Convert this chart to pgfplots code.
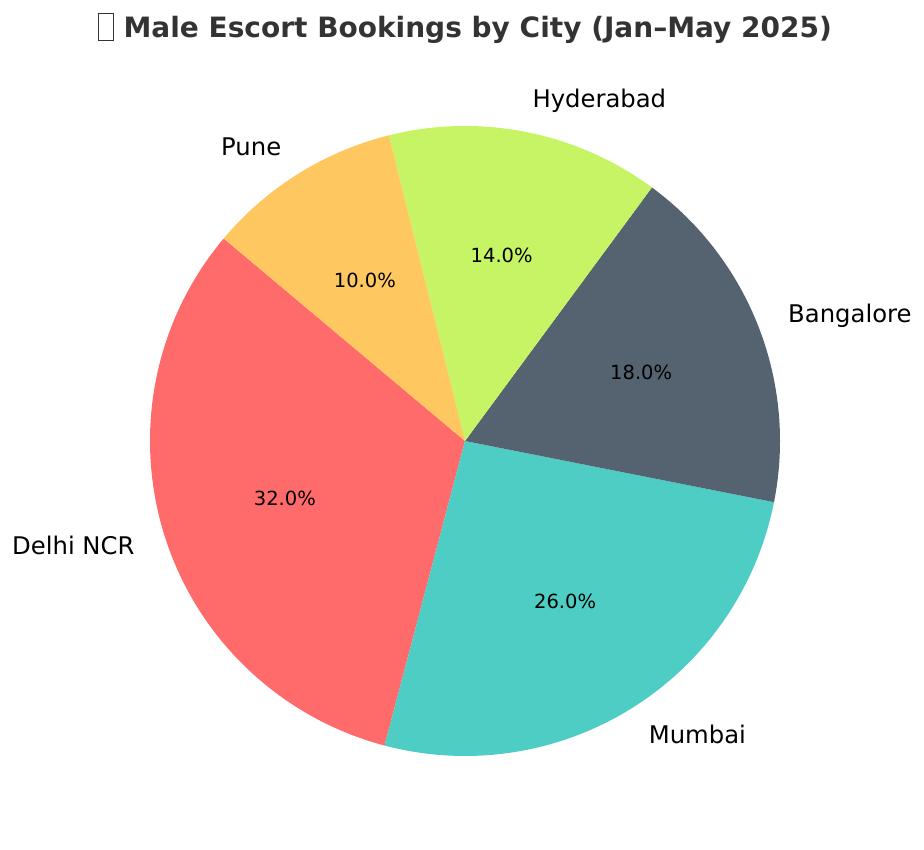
\documentclass[border=0pt]{standalone}
\usepackage{pgfplots}
\usepackage{pgfplotstable}
\pgfplotsset{compat=1.18}
\usepackage{fontspec}
\setmainfont{DejaVu Sans}

\definecolor{cDelhi}{HTML}{FF6B6B}
\definecolor{cMumbai}{HTML}{4ECDC4}
\definecolor{cBangalore}{HTML}{556270}
\definecolor{cHyderabad}{HTML}{C7F464}
\definecolor{cPune}{HTML}{FFC75F}
\definecolor{titlegray}{HTML}{333333}

% share in percent, counter-clockwise from 140 deg
\pgfplotstableread[col sep=comma]{
city,share,col,side
Delhi NCR,32,cDelhi,east
Mumbai,26,cMumbai,west
Bangalore,18,cBangalore,west
Hyderabad,14,cHyderabad,west
Pune,10,cPune,east
}\bookings

\newcommand\tofu{{\setlength\fboxsep{0pt}\setlength\fboxrule{0.9pt}%
  \raisebox{-0.12em}{\fbox{\rule{0pt}{0.95em}\hspace{0.5em}}}}}

\begin{document}
\begin{tikzpicture}
\begin{axis}[
  width=924bp, height=850bp, scale only axis,
  xmin=0, xmax=924, ymin=0, ymax=850,
  hide axis, clip=false,
  /pgf/number format/assume math mode=true,
]
\path (axis cs:0,0) rectangle (axis cs:924,850);
\pgfmathsetmacro\startang{140}
\pgfplotstablegetrowsof{\bookings}
\pgfmathtruncatemacro\nrows{\pgfplotsretval-1}
\pgfplotsforeachungrouped \i in {0,...,\nrows}{
  \pgfplotstablegetelem{\i}{share}\of\bookings \let\share\pgfplotsretval
  \pgfplotstablegetelem{\i}{city}\of\bookings \let\city\pgfplotsretval
  \pgfplotstablegetelem{\i}{col}\of\bookings \let\col\pgfplotsretval
  \pgfplotstablegetelem{\i}{side}\of\bookings \let\side\pgfplotsretval
  \pgfmathsetmacro\endang{\startang+3.6*\share}
  \pgfmathsetmacro\midang{(\startang+\endang)/2}
  \pgfmathsetmacro\sx{465+315*cos(\startang)}
  \pgfmathsetmacro\sy{409+315*sin(\startang)}
  \pgfmathsetmacro\px{465+189*cos(\midang)}
  \pgfmathsetmacro\py{409+189*sin(\midang)}
  \pgfmathsetmacro\lx{465+346.5*cos(\midang)}
  \pgfmathsetmacro\ly{409+346.5*sin(\midang)}
  \edef\temp{%
    \noexpand\fill[\col] (axis cs:465,409) -- (axis cs:\sx,\sy)
      arc[start angle=\startang, end angle=\endang, radius=315bp] -- cycle;
    \noexpand\node[font=\noexpand\fontsize{19.5bp}{22bp}\noexpand\selectfont, anchor=center]
      at (axis cs:\px,\py) {\noexpand\pgfmathprintnumber[fixed,fixed zerofill,precision=1,assume math mode=true]{\share}\noexpand\%};
    \noexpand\node[font=\noexpand\fontsize{24.3bp}{27bp}\noexpand\selectfont, anchor=\side, inner sep=0pt]
      at (axis cs:\lx,\ly) {\city};
  }
  \temp
  \global\let\startang\endang
}
\node[font=\fontsize{28bp}{31bp}\selectfont\bfseries, text=titlegray, anchor=center]
  at (axis cs:465,822) {\tofu\ Male Escort Bookings by City (Jan–May 2025)};
\end{axis}
\end{tikzpicture}
\end{document}
